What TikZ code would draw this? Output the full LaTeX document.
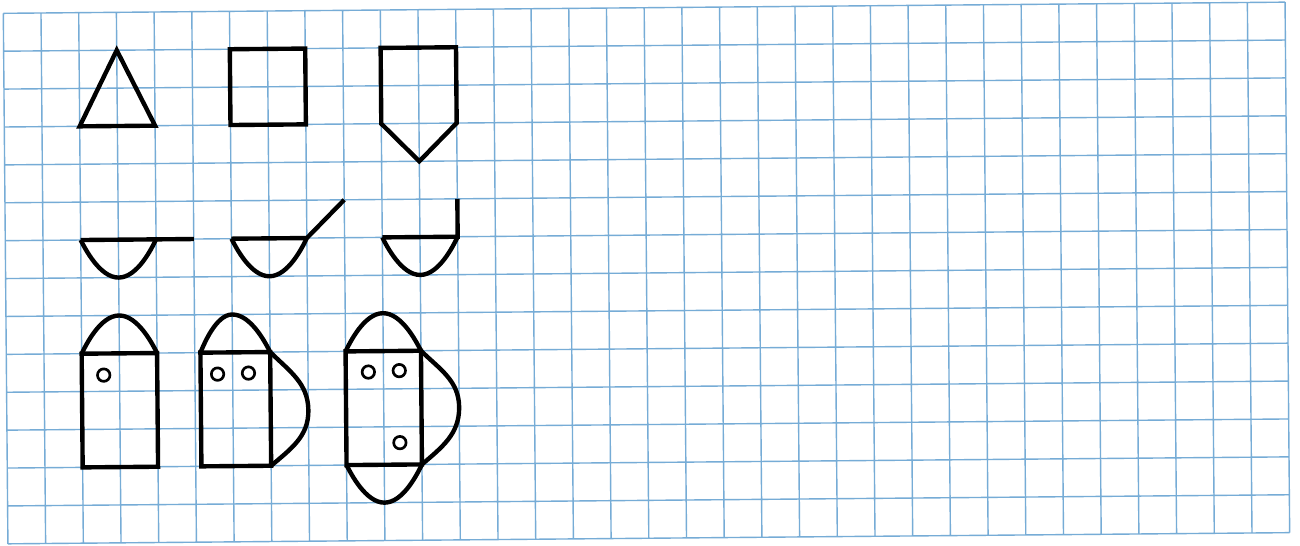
\documentclass[tikz,border=0pt]{standalone}
\begin{document}
\begin{tikzpicture}
\definecolor{gridblue}{RGB}{118,172,214}
\tikzset{
  gridline/.style={draw=gridblue, line width=1.05pt},
  figline/.style={draw=black, line width=3.3pt, line join=miter},
  hole/.style={draw=black, line width=2pt},
}
\useasboundingbox (0,0) rectangle (34.392,-14.444);
\fill[white] (0,0) rectangle (34.392,-14.444);
\begin{scope}[shift={(0.0873,-0.3519)}, rotate=0.5, xscale=0.9974, yscale=1.0026]
  % grid paper
  \draw[gridline] (0,0) grid (34,-14);
  % row 1
  \draw[figline] (2,-3) -- (4,-3) -- (3,-1) -- cycle;
  \draw[figline] (6,-1) rectangle (8,-3);
  \draw[figline] (10,-1) -- (12,-1) -- (12,-3) -- (11,-4) -- (10,-3) -- cycle;
  % row 2
  \draw[figline] (2,-6) -- (5,-6);
  \draw[figline] (2,-6) parabola bend (3,-7) (4,-6);
  \draw[figline] (6,-6) -- (8,-6);
  \draw[figline] (6,-6) parabola bend (7,-7) (8,-6) -- (9,-5);
  \draw[figline] (10,-6) -- (12,-6) -- (12,-5);
  \draw[figline] (10,-6) parabola bend (11,-7) (12,-6);
  % row 3, figure D
  \draw[figline] (2,-9) rectangle (4,-12);
  \draw[figline] (2,-9) parabola bend (3,-8) (4,-9);
  \draw[hole] (2.58,-9.57) circle (0.165);
  % figure E
  \draw[figline] (5.15,-9) rectangle (7,-12);
  \draw[figline] (5.15,-9) parabola bend (6,-8) (7,-9);
  \draw[figline] (7,-9) to[out=-45,in=90] (8,-10.55) to[out=-90,in=40] (7,-12);
  \draw[hole] (5.6,-9.57) circle (0.165);
  \draw[hole] (6.42,-9.55) circle (0.165);
  % figure F
  \draw[figline] (9,-9) rectangle (11,-12);
  \draw[figline] (9,-9) parabola bend (10,-8) (11,-9);
  \draw[figline] (9,-12) parabola bend (10,-13) (11,-12);
  \draw[figline] (11,-9) to[out=-45,in=90] (12,-10.5) to[out=-90,in=40] (11,-12);
  \draw[hole] (9.6,-9.55) circle (0.165);
  \draw[hole] (10.42,-9.52) circle (0.165);
  \draw[hole] (10.42,-11.42) circle (0.165);
\end{scope}
\end{tikzpicture}
\end{document}
